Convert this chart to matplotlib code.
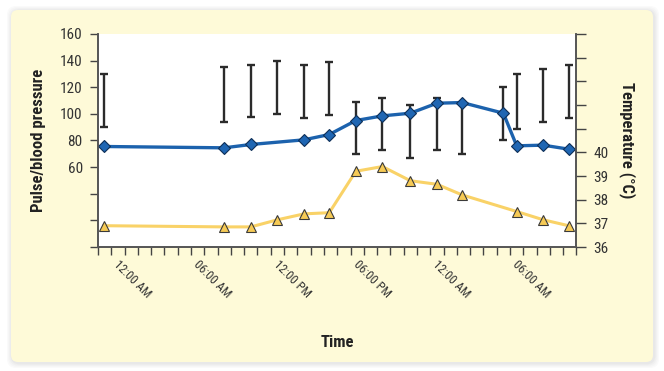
import matplotlib
matplotlib.use('Agg')
import matplotlib.pyplot as plt
from matplotlib import font_manager
from matplotlib.patches import FancyBboxPatch

# pick a condensed font if one is installed
fam = 'DejaVu Sans'
for f in ['Liberation Sans Narrow', 'Roboto Condensed', 'Open Sans Condensed']:
    try:
        font_manager.findfont(f, fallback_to_default=False)
        fam = f
        break
    except Exception:
        pass
plt.rcParams['font.family'] = [fam, 'DejaVu Sans']

#----data----
hours_pulse = [0.45, 9.5, 11.5, 15.5, 17.4, 19.4, 21.4, 23.5, 25.5, 27.4, 30.5, 31.5, 33.5, 35.4]
pulse = [75.5, 74.5, 77, 80.5, 84.5, 95, 98.5, 100.5, 108, 108.5, 100.5, 76, 76.5, 73.5]

hours_bp = [0.45, 9.5, 11.5, 13.5, 15.5, 17.4, 19.4, 21.4, 23.5, 25.5, 27.4, 30.5, 31.5, 33.5, 35.4]
bp_high = [130, 135, 137, 140, 137, 139, 109, 112, 107, 112, 108, 120, 130, 134, 137]
bp_low = [90, 94, 98, 100, 97, 99, 70, 73, 67, 73, 70, 80, 89, 94, 97]

hours_temp = [0.45, 9.5, 11.5, 13.5, 15.5, 17.4, 19.4, 21.4, 23.5, 25.5, 27.4, 31.5, 33.5, 35.4]
temp = [36.9, 36.85, 36.85, 37.15, 37.4, 37.45, 39.2, 39.4, 38.8, 38.65, 38.2, 37.5, 37.15, 36.9]

time_ticks = list(range(0, 37))
time_labels = {1: '12:00 AM', 7: '06:00 AM', 13: '12:00 PM', 19: '06:00 PM', 25: '12:00 AM', 31: '06:00 AM'}
left_ticks = list(range(0, 161, 20))
left_labels = ['', '', '', '60', '80', '100', '120', '140', '160']
right_ticks = list(range(36, 46))
right_labels = ['36', '37', '38', '39', '40', '', '', '', '', '']

#----figure----
fig = plt.figure(figsize=(6.64, 3.71), dpi=100)
fig.patch.set_facecolor('white')

# panel with soft shadow
for i, a in enumerate([0.04, 0.04, 0.05, 0.06]):
    g = 0.05 - i * 0.012
    fig.patches.append(FancyBboxPatch((0.11 - g + 0.01, 0.09 - g - 0.01), 6.42 + 2 * g, 3.52 + 2 * g,
                                      boxstyle='round,pad=0,rounding_size=0.09',
                                      transform=fig.dpi_scale_trans, fc='#888888', ec='none',
                                      alpha=a, zorder=-3))
fig.patches.append(FancyBboxPatch((0.11, 0.09), 6.42, 3.52,
                                  boxstyle='round,pad=0,rounding_size=0.07',
                                  transform=fig.dpi_scale_trans, fc='#fefad8', ec='none', zorder=-2))

ax = fig.add_axes([0.1476, 0.3342, 0.7206, 0.5742])
ax.set_facecolor('white')
ax2 = ax.twinx()

# blood pressure ranges
mid = [(h + l) / 2 for h, l in zip(bp_high, bp_low)]
half = [(h - l) / 2 for h, l in zip(bp_high, bp_low)]
ax.errorbar(hours_bp, mid, yerr=half, fmt='none', ecolor='#2b2b2b', elinewidth=1.7,
            capsize=3, capthick=1.7, zorder=2)
# pulse
ax.plot(hours_pulse, pulse, color='#1c62ad', lw=2.4, marker='D', markersize=6,
        markerfacecolor='#1f66b3', markeredgecolor='#0e2f57', markeredgewidth=0.8, zorder=3)
# temperature
ax2.plot(hours_temp, temp, color='#f9d267', lw=2.2, marker='^', markersize=6.5,
         markerfacecolor='#f6ca55', markeredgecolor='#3a3a3a', markeredgewidth=0.8)

ax.set_xlim(0, 36)
ax.set_ylim(0, 160)
ax2.set_ylim(36, 45)

ax.set_xticks(time_ticks)
ax.set_xticklabels([time_labels.get(t, '') for t in time_ticks], rotation=-45, ha='left',
                   fontsize=9, color='#333333')
ax.set_yticks(left_ticks)
ax.set_yticklabels(left_labels, fontsize=11, color='#333333')
ax2.set_yticks(right_ticks)
ax2.set_yticklabels(right_labels, fontsize=11, color='#333333')

ax.tick_params(axis='x', length=6, width=1, color='#444444', pad=2)
ax.tick_params(axis='y', length=6, width=1, color='#444444', pad=5)
ax2.tick_params(axis='y', length=7, width=1, color='#444444', pad=5)

for a in (ax, ax2):
    a.spines['top'].set_visible(False)
    for s in ('left', 'right', 'bottom'):
        a.spines[s].set_color('#555555')
        a.spines[s].set_linewidth(1.2)

ax.set_ylabel('Pulse/blood pressure', fontsize=12, fontweight='bold', color='#222222')
ax.yaxis.set_label_coords(-0.108, 0.5)
ax2.set_ylabel('Temperature (°C)', fontsize=12, fontweight='bold', color='#222222', rotation=-90)
ax2.yaxis.set_label_coords(1.125, 0.5)
ax.set_xlabel('Time', fontsize=12, fontweight='bold', color='#222222')
ax.xaxis.set_label_coords(0.5, -0.413)

plt.savefig('out.png', dpi=100)
